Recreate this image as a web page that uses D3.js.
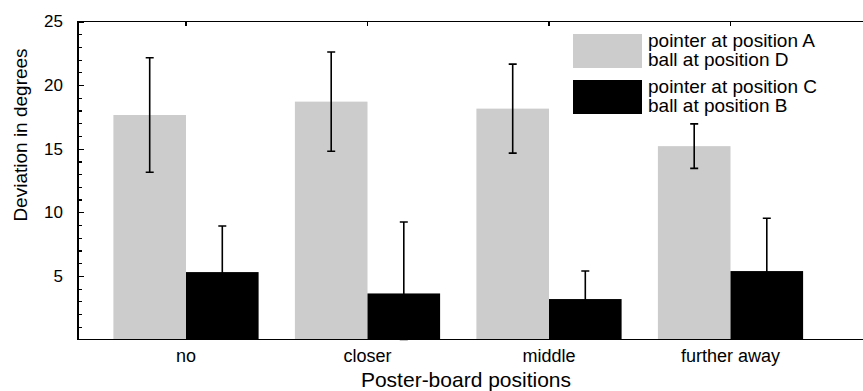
<!DOCTYPE html>
<html>
  <head>
    <meta charset="utf-8">
    <script src="https://d3js.org/d3.v7.min.js"></script>
    <style type="text/css">
      body { margin: 0; background: #fff; }
      text { font-family: "Liberation Sans", Arial, sans-serif; fill: #000; }
      .frame { stroke: #000; stroke-width: 1.5px; fill: none; shape-rendering: crispEdges; }
      .axis path { display: none; }
      .axis line { stroke: #000; stroke-width: 1.2px; shape-rendering: crispEdges; }
      .axis text { font-size: 17px; }
      .err { stroke: #000; stroke-width: 1.6px; fill: none; }
    </style>
  </head>
  <body>
    <div class="plot_canvas"></div>
    <script>

    var categories = ["no", "closer", "middle", "further away"];
    var seriesLabels = [
      ["pointer at position A", "ball at position D"],
      ["pointer at position C", "ball at position B"]
    ];
    var grayMeans = [17.65, 18.7, 18.15, 15.2];
    var grayErr = [4.5, 3.9, 3.5, 1.75];
    var blackMeans = [5.3, 3.62, 3.18, 5.38];
    var blackErr = [3.62, 5.62, 2.2, 4.15];
    var majorTicks = [5, 10, 15, 20, 25];
    var colors = ["#cccccc", "#000000"];

    var W = 863, H = 391;
    var plotLeft = 78, plotTop = 21.5, plotBottom = 339.5, plotRight = 863;

    var svg = d3.select(".plot_canvas")
      .append("svg")
      .attr("width", W)
      .attr("height", H);

    var yScale = d3.scaleLinear()
      .domain([0, 25])
      .range([plotBottom, plotTop]);

    var xScale = d3.scaleBand()
      .domain(categories)
      .range([95.25, 821.25])
      .paddingInner(0.2)
      .paddingOuter(0.1);

    var sub = d3.scaleBand()
      .domain([0, 1])
      .range([0, xScale.bandwidth()]);

    var rows = categories.map(function(c, i) {
      return [
        {cat: c, s: 0, mean: grayMeans[i], err: grayErr[i]},
        {cat: c, s: 1, mean: blackMeans[i], err: blackErr[i]}
      ];
    });

    var groups = svg.append("g").selectAll("g")
      .data(rows).enter()
      .append("g")
      .attr("transform", function(d) { return "translate(" + xScale(d[0].cat) + ",0)"; });

    groups.selectAll("rect")
      .data(function(d) { return d; }).enter()
      .append("rect")
      .attr("x", function(d) { return sub(d.s); })
      .attr("y", function(d) { return yScale(d.mean); })
      .attr("width", sub.bandwidth())
      .attr("height", function(d) { return yScale(0) - yScale(d.mean); })
      .attr("fill", function(d) { return colors[d.s]; });

    // error bars
    var cap = 4;
    groups.selectAll("path.err")
      .data(function(d) { return d; }).enter()
      .append("path")
      .attr("class", "err")
      .attr("d", function(d) {
        var cx = sub(d.s) + sub.bandwidth() / 2;
        var y1 = yScale(d.mean + d.err), y0 = yScale(Math.max(0, d.mean - d.err));
        return "M" + cx + "," + y0 + "V" + y1 +
          "M" + (cx - cap) + "," + y1 + "H" + (cx + cap) +
          "M" + (cx - cap) + "," + y0 + "H" + (cx + cap);
      });

    // y axis, ticks inward
    var minor = d3.range(1, 25).filter(function(v) { return v % 5 !== 0; });
    svg.append("g")
      .attr("class", "axis")
      .attr("transform", "translate(" + plotLeft + ",0)")
      .call(d3.axisLeft(yScale).tickValues(minor).tickSize(-4).tickFormat(""));
    svg.append("g")
      .attr("class", "axis")
      .attr("transform", "translate(" + plotLeft + ",0)")
      .call(d3.axisLeft(yScale).tickValues(majorTicks).tickSize(-6).tickPadding(15).tickFormat(d3.format("d")));

    // top ticks at category centres
    svg.append("g")
      .attr("class", "axis")
      .attr("transform", "translate(0," + plotTop + ")")
      .call(d3.axisTop(xScale).tickSize(-4).tickFormat(""));

    // bottom labels
    svg.append("g")
      .attr("class", "axis")
      .attr("transform", "translate(0," + plotBottom + ")")
      .call(d3.axisBottom(xScale).tickSize(0).tickPadding(10))
      .selectAll("text").style("font-size", "18px");

    // frame: left, top, bottom
    svg.append("path")
      .attr("class", "frame")
      .attr("d", "M" + plotRight + "," + plotTop + "H" + plotLeft + "V" + plotBottom + "H" + plotRight);

    svg.append("text")
      .attr("transform", "translate(27,135) rotate(-90)")
      .attr("text-anchor", "middle")
      .style("font-size", "19px")
      .text("Deviation in degrees");

    svg.append("text")
      .attr("x", 466)
      .attr("y", 387)
      .attr("text-anchor", "middle")
      .style("font-size", "21px")
      .text("Poster-board positions");

    // legend
    var legend = svg.append("g").attr("transform", "translate(573,34)");
    var leg = legend.selectAll("g")
      .data(seriesLabels).enter()
      .append("g")
      .attr("transform", function(d, i) { return "translate(0," + (i * 46) + ")"; });
    leg.append("rect")
      .attr("width", 69)
      .attr("height", 34)
      .attr("fill", function(d, i) { return colors[i]; });
    leg.selectAll("text")
      .data(function(d) { return d; }).enter()
      .append("text")
      .attr("x", 75)
      .attr("y", function(d, j) { return 13 + j * 19; })
      .style("font-size", "19px")
      .text(function(d) { return d; });

    </script>
  </body>
</html>
